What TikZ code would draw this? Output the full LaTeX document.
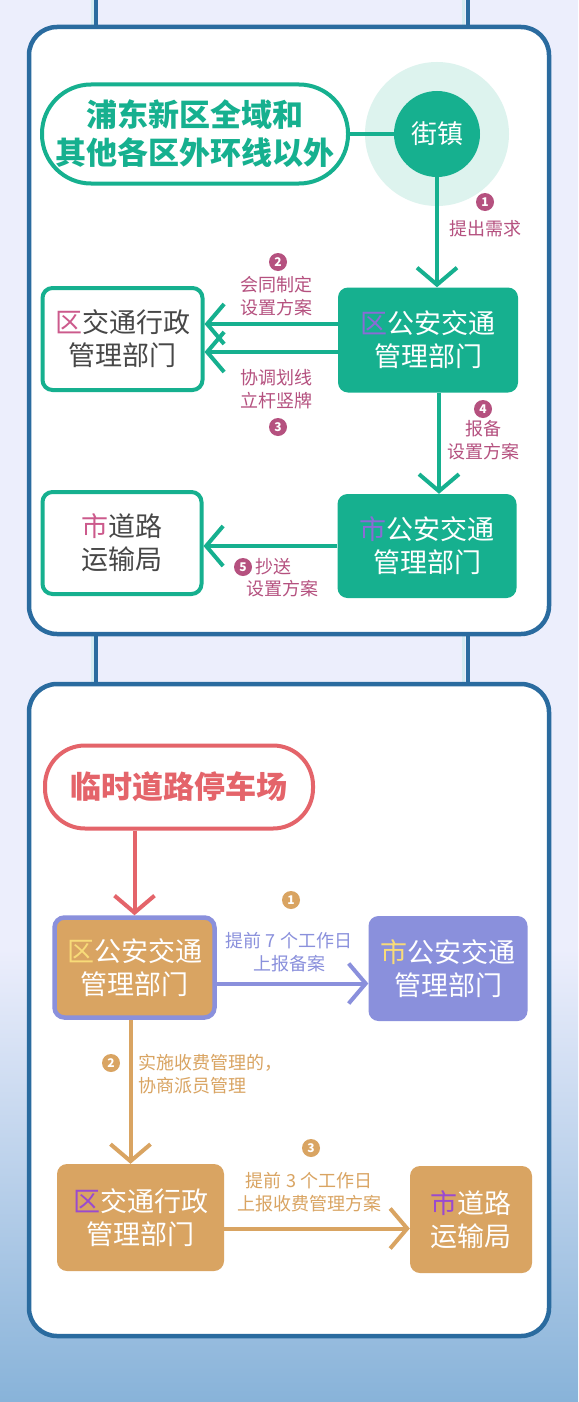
\documentclass[tikz,border=0pt]{standalone}
\usepackage{fontspec}
\setmainfont{Noto Sans CJK SC}
\usetikzlibrary{arrows.meta,positioning}

\definecolor{bgtop}{HTML}{ECEEFC}
\definecolor{bgbot}{HTML}{88B3D9}
\definecolor{panelblue}{HTML}{2A6B9F}
\definecolor{barlight}{HTML}{D3ECF2}
\definecolor{jgreen}{HTML}{16B08F}
\definecolor{jglow}{HTML}{DDF3EE}
\definecolor{jpink}{HTML}{B5517F}
\definecolor{qpurple}{HTML}{8B6BD6}
\definecolor{qpink}{HTML}{CC5A8C}
\definecolor{tgray}{HTML}{474747}
\definecolor{pred}{HTML}{E4646A}
\definecolor{porange}{HTML}{D9A462}
\definecolor{pviolet}{HTML}{8A90DC}
\definecolor{pyellow}{HTML}{F8DB78}
\definecolor{pmagenta}{HTML}{9A4ACF}

\tikzset{
  panel/.style={draw=panelblue, line width=4.5pt, fill=white, rounded corners=28pt},
  bar/.style={draw=panelblue, line width=3.5pt},
  barglow/.style={draw=barlight, line width=3pt},
  stadium/.style={draw=#1, line width=4pt, fill=white, text=#1, align=center,
    font=\fontsize{31}{38}\selectfont\bfseries},
  box/.style={rounded corners=10pt, align=center, inner sep=0pt,
    font=\fontsize{27}{33}\selectfont},
  flow/.style={line width=4pt, -{Straight Barb[length=17pt, width=40pt]}},
  lbl/.style={align=center, inner sep=0pt, font=\fontsize{18}{23}\selectfont},
  num/.style={circle, fill=#1, text=white, inner sep=0pt, minimum size=18pt,
    font=\fontsize{12}{12}\selectfont\bfseries},
}

\begin{document}
\begin{tikzpicture}[x=1pt, y=-1pt]
  \useasboundingbox (0,0) rectangle (578,1402);

  % Background
  \fill[bgtop] (0,0) rectangle (578,950);
  \shade[top color=bgtop, bottom color=bgbot] (0,949) rectangle (578,1402);

  % Bars between the panels
  \foreach \yA/\yB in {0/27, 634/684} {
    \draw[barglow] (92,\yA) -- (92,\yB);
    \draw[barglow] (463,\yA) -- (463,\yB);
    \draw[bar] (96,\yA) -- (96,\yB);
    \draw[bar] (468,\yA) -- (468,\yB);
  }

  % Panels
  \draw[panel] (29,27) rectangle (549,634);
  \draw[panel] (29,684) rectangle (549,1336);

  % Upper panel: nodes
  \node[stadium=jgreen, rounded corners=49pt, minimum width=306pt, minimum height=99pt]
    (pudong) at (195,134) {浦东新区全域和\\其他各区外环线以外};
  \node[circle, fill=jglow, minimum size=144pt] (jzglow) at (437,134) {};
  \node[circle, fill=jgreen, text=white, minimum size=86pt, font=\fontsize{26}{26}\selectfont]
    (jiezhen) at (437,134) {街镇};
  \draw[jgreen, line width=4pt] (pudong.east) -- (jiezhen.west);

  \node[box, fill=jgreen, text=white, minimum width=180pt, minimum height=105pt]
    (qugongan) at (428,340) {{\color{qpurple}区}公安交通\\管理部门};
  \node[box, draw=jgreen, line width=4pt, fill=white, text=tgray, minimum width=160pt, minimum height=102pt]
    (qujiaotong) at (122.5,339) {{\color{qpink}区}交通行政\\管理部门};
  \node[box, fill=jgreen, text=white, minimum width=179pt, minimum height=104pt]
    (shigongan) at (427,546) {{\color{qpurple}市}公安交通\\管理部门};
  \node[box, draw=jgreen, line width=4pt, fill=white, text=tgray, minimum width=159pt, minimum height=102pt]
    (shidaolu) at (122,543) {{\color{qpink}市}道路\\运输局};

  % Upper panel: arrows
  \draw[flow, jgreen] (jiezhen.south) -- (jiezhen.south |- qugongan.north);
  \draw[flow, jgreen] ([yshift=16pt]qugongan.west) -- ([yshift=16pt]qugongan.west -| qujiaotong.east);
  \draw[flow, jgreen] ([yshift=-12pt]qugongan.west) -- ([yshift=-12pt]qugongan.west -| qujiaotong.east);
  \draw[flow, jgreen] ([xshift=11pt]qugongan.south) -- ([xshift=11pt]qugongan.south |- shigongan.north);
  \draw[flow, jgreen] (shigongan.west) -- (shigongan.west -| shidaolu.east);

  % Upper panel: labels
  \node[num=jpink] (n1) at (485,202) {1};
  \node[lbl, text=jpink] (l1) at (485,229) {提出需求};
  \node[num=jpink] (n2) at (278,262) {2};
  \node[lbl, text=jpink] (l2) at (276,296) {会同制定\\设置方案};
  \node[lbl, text=jpink] (l3) at (276,389) {协调划线\\立杆竖牌};
  \node[num=jpink] (n3) at (278,427) {3};
  \node[num=jpink] (n4) at (483,409) {4};
  \node[lbl, text=jpink] (l4) at (483,440) {报备\\设置方案};
  \node[num=jpink] (n5) at (243,567) {5};
  \node[lbl, text=jpink, right=3pt of n5] (l5a) {抄送};
  \node[lbl, text=jpink] (l5b) at (282,589) {设置方案};

  % Lower panel: nodes
  \node[stadium=pred, rounded corners=40pt, minimum width=268pt, minimum height=83pt]
    (linshi) at (179,787) {临时道路停车场};
  \node[box, draw=pviolet, line width=4.5pt, fill=porange, text=white, minimum width=160pt, minimum height=100pt]
    (qugongan2) at (134.5,967.5) {{\color{pyellow}区}公安交通\\管理部门};
  \node[box, fill=pviolet, text=white, minimum width=159pt, minimum height=105pt]
    (shigongan2) at (448,968.5) {{\color{pyellow}市}公安交通\\管理部门};
  \node[box, fill=porange, text=white, minimum width=167pt, minimum height=107pt]
    (qujiaotong2) at (140.5,1217.5) {{\color{pmagenta}区}交通行政\\管理部门};
  \node[box, fill=porange, text=white, minimum width=122pt, minimum height=107pt]
    (shidaolu2) at (471,1219.5) {{\color{pmagenta}市}道路\\运输局};

  % Lower panel: arrows
  \draw[flow, pred] (linshi.south -| qugongan2.north) -- (qugongan2.north);
  \draw[flow, pviolet] ([yshift=-16pt]qugongan2.east) -- ([yshift=-16pt]qugongan2.east -| shigongan2.west);
  \draw[flow, porange] ([xshift=-4pt]qugongan2.south) -- ([xshift=-4pt]qugongan2.south |- qujiaotong2.north);
  \draw[flow, porange] ([yshift=-11pt]qujiaotong2.east) -- ([yshift=-11pt]qujiaotong2.east -| shidaolu2.west);

  % Lower panel: labels
  \node[num=porange] (m1) at (291,900) {1};
  \node[lbl, text=pviolet] (k1) at (289,952) {提前 7 个工作日\\上报备案};
  \node[num=porange] (m2) at (111,1063) {2};
  \node[lbl, text=porange, align=left, anchor=west] (k2) at (138,1074) {实施收费管理的，\\协商派员管理};
  \node[num=porange] (m3) at (311,1148) {3};
  \node[lbl, text=porange] (k3) at (309,1192) {提前 3 个工作日\\上报收费管理方案};
\end{tikzpicture}
\end{document}
